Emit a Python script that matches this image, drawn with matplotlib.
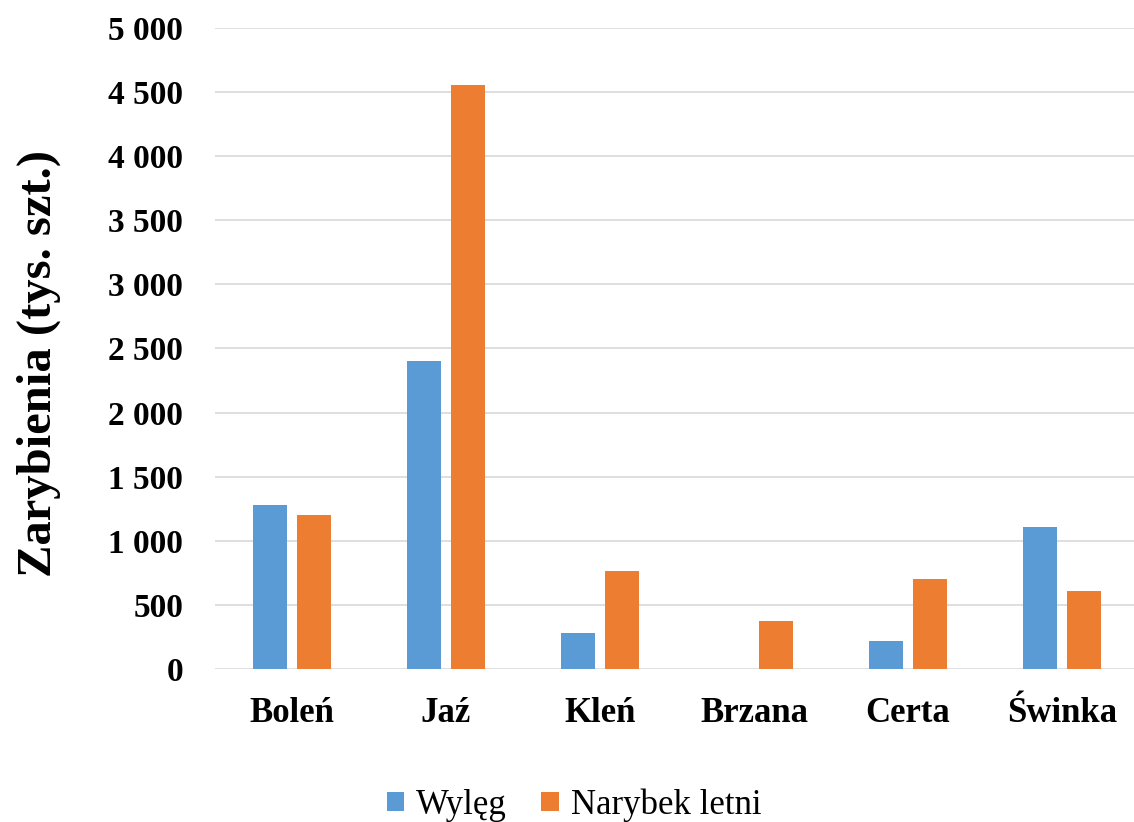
import matplotlib
matplotlib.use("Agg")
import matplotlib.pyplot as plt
import numpy as np

species = ["Boleń", "Jaź", "Kleń", "Brzana", "Certa", "Świnka"]
wyleg = [1280, 2400, 280, 0, 215, 1110]
narybek_letni = [1200, 4555, 765, 375, 700, 610]
series_names = ["Wylęg", "Narybek letni"]
y_ticks = [0, 500, 1000, 1500, 2000, 2500, 3000, 3500, 4000, 4500, 5000]

plt.rcParams['font.family'] = ['Liberation Serif', 'DejaVu Serif']

W, H = 1134, 822
fig = plt.figure(figsize=(W / 100, H / 100), dpi=100)
ax = fig.add_axes([215 / W, 153 / H, 924 / W, 641 / H])

x = np.arange(len(species))
bw = 0.22
off = 0.141
ax.bar(x - off, wyleg, bw, color='#5B9BD5', label=series_names[0], zorder=3)
ax.bar(x + off, narybek_letni, bw, color='#ED7D31', label=series_names[1], zorder=3)

ax.set_xlim(-0.5, len(species) - 0.5)
ax.set_ylim(0, 5000)
ax.set_yticks(y_ticks)
ax.set_yticklabels([f"{v:,}".replace(",", " ") for v in y_ticks],
                   fontsize=24, fontweight='bold')
ax.set_xticks(x)
ax.set_xticklabels(species, fontsize=25, fontweight='bold')
ax.tick_params(axis='both', length=0)
ax.tick_params(axis='y', pad=23)
ax.tick_params(axis='x', pad=20)

ax.grid(axis='y', color='#d9d9d9', linewidth=1.2, zorder=0)
for s in ax.spines.values():
    s.set_visible(False)

fig.text(39 / W, 1 - 363 / H, "Zarybienia (tys. szt.)", rotation=90,
         fontsize=35, fontweight='bold', ha='center', va='center')

fig.legend(loc='center', bbox_to_anchor=(574 / W, 1 - 805 / H), ncol=2,
           frameon=False, fontsize=25, handlelength=0.5, handleheight=0.5,
           handletextpad=0.35, columnspacing=1.0)

fig.savefig("out.png", dpi=100)
